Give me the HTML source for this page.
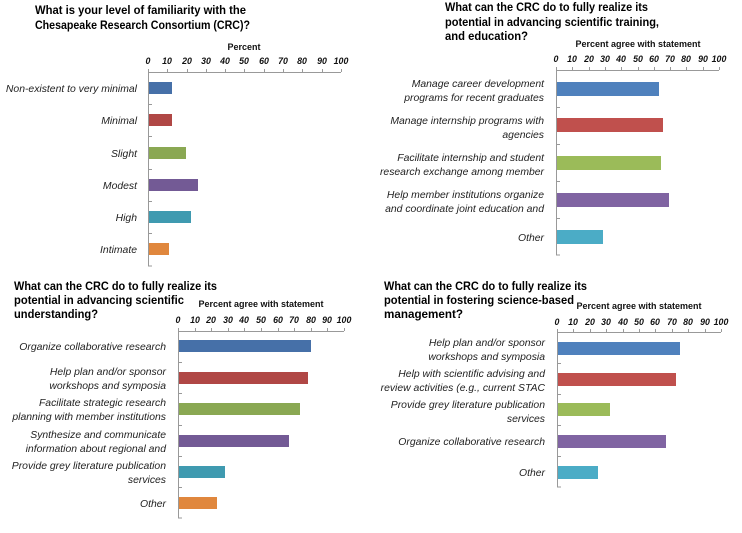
<!DOCTYPE html>
<html><head><meta charset="utf-8"><style>
html,body{margin:0;padding:0;background:#fff}
svg{display:block;font-family:"Liberation Sans",sans-serif}
.t{font-weight:bold;font-size:12px;fill:#000}
.at{font-weight:bold;font-size:9px;fill:#111}
.tk{font-style:italic;font-weight:bold;font-size:8.8px;fill:#111}
.lb{font-style:italic;font-size:10.4px;fill:#222}
.ax{stroke:#999;stroke-width:1;fill:none}
</style></head><body>
<svg width="742" height="533" viewBox="0 0 742 533">
<!-- Chart 1 -->
<text class="t" x="35" y="14" textLength="211" lengthAdjust="spacingAndGlyphs">What is your level of familiarity with the</text>
<text class="t" x="35" y="29" textLength="215" lengthAdjust="spacingAndGlyphs">Chesapeake Research Consortium (CRC)?</text>
<text class="at" x="244" y="50" text-anchor="middle">Percent</text>
<g class="tk" text-anchor="middle">
<text x="148" y="64">0</text><text x="167" y="64">10</text><text x="187" y="64">20</text><text x="206" y="64">30</text><text x="225" y="64">40</text><text x="244" y="64">50</text><text x="264" y="64">60</text><text x="283" y="64">70</text><text x="302" y="64">80</text><text x="322" y="64">90</text><text x="341" y="64">100</text>
</g>
<path class="ax" d="M148.5,72 V266 M148,72.5 H341 M148.5,72 v-3 M167.5,72 v-3 M187.5,72 v-3 M206.5,72 v-3 M225.5,72 v-3 M244.5,72 v-3 M264.5,72 v-3 M283.5,72 v-3 M302.5,72 v-3 M322.5,72 v-3 M341.5,72 v-3 M148,104.5 h4 M148,136.5 h4 M148,169.5 h4 M148,201.5 h4 M148,233.5 h4 M148,266 h4"/>
<rect x="149" y="82" width="23" height="12" fill="#4670a8"/>
<rect x="149" y="114" width="23" height="12" fill="#b04745"/>
<rect x="149" y="147" width="37" height="12" fill="#8aa853"/>
<rect x="149" y="179" width="49" height="12" fill="#735a95"/>
<rect x="149" y="211" width="42" height="12" fill="#3f9ab0"/>
<rect x="149" y="243" width="20" height="12" fill="#e0873d"/>
<g class="lb" text-anchor="end">
<text x="137" y="92">Non-existent to very minimal</text>
<text x="137" y="124">Minimal</text>
<text x="137" y="157">Slight</text>
<text x="137" y="189">Modest</text>
<text x="137" y="221">High</text>
<text x="137" y="253">Intimate</text>
</g>
<!-- Chart 2 -->
<text class="t" x="445" y="11" textLength="203" lengthAdjust="spacingAndGlyphs">What can the CRC do to fully realize its</text>
<text class="t" x="445" y="26" textLength="214" lengthAdjust="spacingAndGlyphs">potential in advancing scientific training,</text>
<text class="t" x="445" y="40" textLength="83" lengthAdjust="spacingAndGlyphs">and education?</text>
<text class="at" x="638" y="47" text-anchor="middle">Percent agree with statement</text>
<g class="tk" text-anchor="middle">
<text x="556" y="62">0</text><text x="572" y="62">10</text><text x="589" y="62">20</text><text x="605" y="62">30</text><text x="621" y="62">40</text><text x="638" y="62">50</text><text x="654" y="62">60</text><text x="670" y="62">70</text><text x="686" y="62">80</text><text x="703" y="62">90</text><text x="719" y="62">100</text>
</g>
<path class="ax" d="M556.5,70 V255 M556,70.5 H719 M556.5,70 v-3 M572.5,70 v-3 M589.5,70 v-3 M605.5,70 v-3 M621.5,70 v-3 M638.5,70 v-3 M654.5,70 v-3 M670.5,70 v-3 M686.5,70 v-3 M703.5,70 v-3 M719.5,70 v-3 M556,107.5 h4 M556,144.5 h4 M556,181.5 h4 M556,218.5 h4 M556,255 h4"/>
<rect x="557" y="82" width="102" height="14" fill="#4f81bd"/>
<rect x="557" y="118" width="106" height="14" fill="#c0504d"/>
<rect x="557" y="156" width="104" height="14" fill="#9bbb59"/>
<rect x="557" y="193" width="112" height="14" fill="#8064a2"/>
<rect x="557" y="230" width="46" height="14" fill="#4bacc6"/>
<g class="lb" text-anchor="end">
<text x="544" y="87">Manage career development</text>
<text x="544" y="101">programs for recent graduates</text>
<text x="544" y="124">Manage internship programs with</text>
<text x="544" y="138">agencies</text>
<text x="544" y="161">Facilitate internship and student</text>
<text x="544" y="175">research exchange among member</text>
<text x="544" y="198">Help member institutions organize</text>
<text x="544" y="212">and coordinate joint education and</text>
<text x="544" y="241">Other</text>
</g>
<!-- Chart 3 -->
<text class="t" x="14" y="290" textLength="203" lengthAdjust="spacingAndGlyphs">What can the CRC do to fully realize its</text>
<text class="t" x="14" y="304" textLength="170" lengthAdjust="spacingAndGlyphs">potential in advancing scientific</text>
<text class="t" x="14" y="318" textLength="84" lengthAdjust="spacingAndGlyphs">understanding?</text>
<text class="at" x="261" y="307" text-anchor="middle">Percent agree with statement</text>
<g class="tk" text-anchor="middle">
<text x="178" y="323">0</text><text x="195" y="323">10</text><text x="211" y="323">20</text><text x="228" y="323">30</text><text x="244" y="323">40</text><text x="261" y="323">50</text><text x="278" y="323">60</text><text x="294" y="323">70</text><text x="311" y="323">80</text><text x="327" y="323">90</text><text x="344" y="323">100</text>
</g>
<path class="ax" d="M178.5,331 V518 M178,331.5 H344 M178.5,331 v-3 M195.5,331 v-3 M211.5,331 v-3 M228.5,331 v-3 M244.5,331 v-3 M261.5,331 v-3 M278.5,331 v-3 M294.5,331 v-3 M311.5,331 v-3 M327.5,331 v-3 M344.5,331 v-3 M178,362.5 h4 M178,393.5 h4 M178,425.5 h4 M178,456.5 h4 M178,487.5 h4 M178,518 h4"/>
<rect x="179" y="340" width="132" height="12" fill="#4670a8"/>
<rect x="179" y="372" width="129" height="12" fill="#b04745"/>
<rect x="179" y="403" width="121" height="12" fill="#8aa853"/>
<rect x="179" y="435" width="110" height="12" fill="#735a95"/>
<rect x="179" y="466" width="46" height="12" fill="#3f9ab0"/>
<rect x="179" y="497" width="38" height="12" fill="#e0873d"/>
<g class="lb" text-anchor="end">
<text x="166" y="350">Organize collaborative research</text>
<text x="166" y="375">Help plan and/or sponsor</text>
<text x="166" y="389">workshops and symposia</text>
<text x="166" y="406">Facilitate strategic research</text>
<text x="166" y="420">planning with member institutions</text>
<text x="166" y="438">Synthesize and communicate</text>
<text x="166" y="452">information about regional and</text>
<text x="166" y="469">Provide grey literature publication</text>
<text x="166" y="483">services</text>
<text x="166" y="507">Other</text>
</g>
<!-- Chart 4 -->
<text class="t" x="384" y="290" textLength="203" lengthAdjust="spacingAndGlyphs">What can the CRC do to fully realize its</text>
<text class="t" x="384" y="304" textLength="190" lengthAdjust="spacingAndGlyphs">potential in fostering science-based</text>
<text class="t" x="384" y="318" textLength="79" lengthAdjust="spacingAndGlyphs">management?</text>
<text class="at" x="639" y="309" text-anchor="middle">Percent agree with statement</text>
<g class="tk" text-anchor="middle">
<text x="557" y="325">0</text><text x="573" y="325">10</text><text x="590" y="325">20</text><text x="606" y="325">30</text><text x="623" y="325">40</text><text x="639" y="325">50</text><text x="655" y="325">60</text><text x="672" y="325">70</text><text x="688" y="325">80</text><text x="705" y="325">90</text><text x="721" y="325">100</text>
</g>
<path class="ax" d="M557.5,332 V487 M557,332.5 H721 M557.5,332 v-3 M573.5,332 v-3 M590.5,332 v-3 M606.5,332 v-3 M623.5,332 v-3 M639.5,332 v-3 M655.5,332 v-3 M672.5,332 v-3 M688.5,332 v-3 M705.5,332 v-3 M721.5,332 v-3 M557,363.5 h4 M557,394.5 h4 M557,425.5 h4 M557,456.5 h4 M557,487 h4"/>
<rect x="558" y="342" width="122" height="13" fill="#4f81bd"/>
<rect x="558" y="373" width="118" height="13" fill="#c0504d"/>
<rect x="558" y="403" width="52" height="13" fill="#9bbb59"/>
<rect x="558" y="435" width="108" height="13" fill="#8064a2"/>
<rect x="558" y="466" width="40" height="13" fill="#4bacc6"/>
<g class="lb" text-anchor="end">
<text x="545" y="346">Help plan and/or sponsor</text>
<text x="545" y="360">workshops and symposia</text>
<text x="545" y="377">Help with scientific advising and</text>
<text x="545" y="391">review activities (e.g., current STAC</text>
<text x="545" y="408">Provide grey literature publication</text>
<text x="545" y="422">services</text>
<text x="545" y="445">Organize collaborative research</text>
<text x="545" y="476">Other</text>
</g>
</svg>
</body></html>
